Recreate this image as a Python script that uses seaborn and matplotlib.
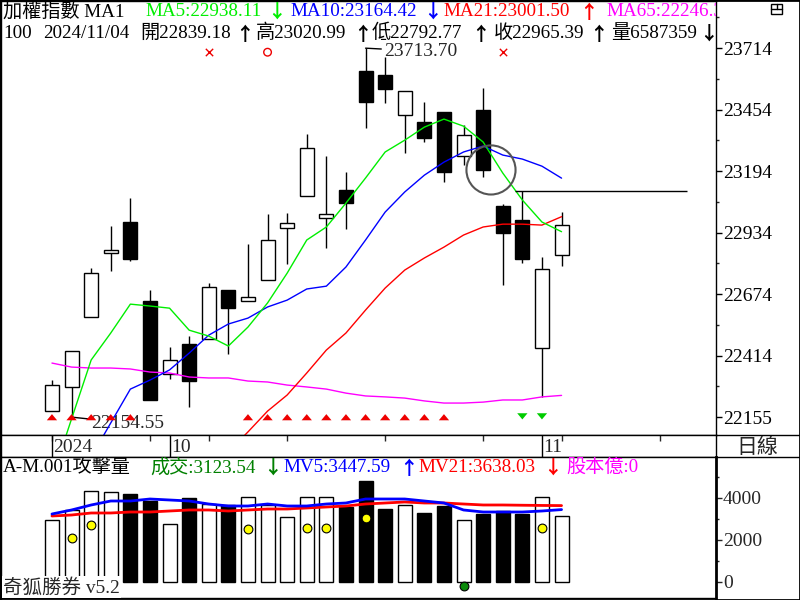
import numpy as np
import pandas as pd
import seaborn as sns
import matplotlib.pyplot as plt
from matplotlib.patches import Rectangle
from matplotlib.lines import Line2D
from matplotlib.transforms import Affine2D

# ---- data ----
dates = ["09/23", "09/24", "09/25", "09/26", "09/27", "09/30", "10/01", "10/04", "10/07",
         "10/08", "10/09", "10/11", "10/14", "10/15", "10/16", "10/17", "10/18", "10/21",
         "10/22", "10/23", "10/24", "10/25", "10/28", "10/29", "10/30", "11/01", "11/04"]
opens = [22180, 22282, 22578, 22848, 22979, 22645, 22337, 22463, 22485, 22692, 22645, 22734,
         22954, 23089, 22996, 23114, 23617, 23600, 23431, 23401, 23444, 23258, 23452, 23047,
         22987, 22447, 22839.18]
highs = [22311, 22434, 22785, 22962, 23080, 22692, 22451, 22497, 22721, 22692, 22886, 23013,
         23017, 23351, 23258, 23190, 23713.70, 23676, 23532, 23486, 23444, 23389, 23545, 23055,
         23110, 22831, 23020.99]
lows = [22180, 22154.55, 22578, 22772, 22814, 22227, 22316, 22197, 22485, 22421, 22645, 22734,
        22801, 23089, 22869, 22949, 23376, 23482, 23270, 23317, 23148, 23220, 23169, 22713,
        22806, 22240, 22792.77]
closes = [22290, 22434, 22763, 22861, 22823, 22227, 22396, 22307, 22704, 22616, 22662, 22903,
          22975, 23292, 23013, 23059, 23486, 23541, 23532, 23334, 23190, 23346, 23199, 22932,
          22823, 22780, 22965.39]

ma5 = [21897, 22147, 22396, 22510, 22632, 22624, 22615, 22522, 22497, 22455, 22535, 22637,
       22763, 22903, 22958, 23059, 23165, 23275, 23325, 23380, 23414, 23384, 23317, 23186,
       23072, 22979, 22938.11]
ma10 = [np.nan, np.nan, 21986, 22130, 22273, 22311, 22354, 22425, 22501, 22548, 22573, 22620,
        22649, 22696, 22708, 22789, 22903, 23021, 23106, 23177, 23232, 23275, 23300, 23262,
        23245, 23215, 23164.42]
ma21 = [np.nan] * 9 + [22007, 22092, 22180, 22248, 22341, 22438, 22510, 22607, 22700, 22776,
                       22827, 22873, 22924, 22958, 22970, 22970, 22966, 23001.50]
ma65 = [22383, 22366, 22362, 22362, 22358, 22345, 22341, 22324, 22320, 22320, 22307, 22303,
        22290, 22282, 22273, 22256, 22244, 22240, 22235, 22223, 22214, 22214, 22218, 22227,
        22227, 22240, 22246.32]

volume = [2952, 3429, 4333, 4286, 4190, 3857, 2762, 4000, 3714, 3667, 4048, 3667, 3095, 4048,
          4048, 3571, 4810, 3476, 3667, 3286, 3619, 2952, 3238, 3381, 3238, 4048, 3123.54]
mv5 = [3238, 3429, 3667, 3857, 3857, 3952, 3905, 3857, 3714, 3619, 3619, 3714, 3619, 3619,
       3714, 3762, 3952, 3952, 3952, 3857, 3762, 3429, 3333, 3333, 3333, 3381, 3447.59]
mv21 = [3143, 3190, 3286, 3286, 3333, 3333, 3381, 3429, 3429, 3381, 3429, 3476, 3476, 3524,
        3571, 3619, 3714, 3762, 3810, 3762, 3762, 3714, 3667, 3667, 3655, 3645, 3638.03]

shares = 6587359
buy_signal = [0, 1, 2, 3, 4, 10, 11, 12, 13, 14, 15, 16, 17, 18, 19, 20]
sell_signal = [24, 25]
x_marks = [8, 23]
o_marks = [11]
yellow_idx = [1, 2, 10, 13, 14, 16, 25]
yellow_val = [2095, 2714, 2524, 2571, 2571, 3048, 2571]
green_idx = [21]
green_val = [-190]

price_ticks = [22155, 22414, 22674, 22934, 23194, 23454, 23714]
vol_ticks = [0, 2000, 4000]
week_ticks = [0, 5, 8, 12, 17, 22, 26, 31]
month_ticks = [0, 6, 25]
month_labels = ["2024", "10", "11"]

df = pd.DataFrame({"x": np.arange(len(dates)), "open": opens, "high": highs, "low": lows,
                   "close": closes, "ma5": ma5, "ma10": ma10, "ma21": ma21, "ma65": ma65,
                   "vol": volume, "mv5": mv5, "mv21": mv21})
df["face"] = np.where(df["close"] > df["open"], "white", "black")

# ---- style ----
sns.set_theme(style="white")
plt.rcParams["font.family"] = ["Liberation Serif", "Noto Sans CJK TC", "DejaVu Sans"]
plt.rcParams["axes.edgecolor"] = "black"
plt.rcParams["axes.linewidth"] = 1.0
CJK = ["Noto Sans CJK TC", "DejaVu Sans"]

W, H = 800, 600
fig = plt.figure(figsize=(8, 6), dpi=100)
fig.patch.set_facecolor("white")


def box(x0, y0, x1, y1):
    return [x0 / W, 1 - y1 / H, (x1 - x0) / W, (y1 - y0) / H]


pix = Affine2D().scale(1 / W, -1 / H).translate(0, 1) + fig.transFigure

ax = fig.add_axes(box(1, 1, 716, 435))
dax = fig.add_axes(box(1, 435, 716, 457), sharex=ax)
vax = fig.add_axes(box(1, 457, 716, 598), sharex=ax)
for a in (ax, dax, vax):
    a.set_facecolor("white")
    for s in a.spines.values():
        s.set_color("black")
        s.set_linewidth(1)
vax.spines["right"].set_linewidth(2)

ax.set_xlim(-2.6, 33.88)
ax.set_ylim(22079, 23913)
vax.set_ylim(-762, 5952)
dax.set_ylim(0, 1)

# ---- candles ----
bw = 0.71
ax.vlines(df["x"], df["low"], df["high"], color="black", lw=1, zorder=2)
ax.bar(df["x"], (df["close"] - df["open"]).abs().clip(lower=2), bottom=df[["open", "close"]].min(axis=1),
       width=bw, color=df["face"], edgecolor="black", linewidth=1, zorder=3)

for col, c in [("ma65", "#ff00ff"), ("ma21", "#ff0000"), ("ma10", "#0000ff"), ("ma5", "#00ee00")]:
    sns.lineplot(data=df, x="x", y=col, color=c, lw=1, ax=ax, zorder=4)

up_tri = [(-1, -0.6), (1, -0.6), (0, 0.6), (-1, -0.6)]
dn_tri = [(-1, 0.6), (1, 0.6), (0, -0.6), (-1, 0.6)]
sig_tr = ax.get_xaxis_transform()
ax.scatter(buy_signal, [0.041] * len(buy_signal), transform=sig_tr, marker=up_tri, s=55,
           color="#ee0000", edgecolors="none", zorder=5)
ax.scatter(sell_signal, [0.043] * len(sell_signal), transform=sig_tr, marker=dn_tri, s=55,
           color="#00cc00", edgecolors="none", zorder=5)
ax.scatter(x_marks, [0.882] * len(x_marks), transform=sig_tr, marker="x", s=28,
           color="#ee0000", linewidths=1, zorder=5)
ax.scatter(o_marks, [0.882] * len(o_marks), transform=sig_tr, marker="o", s=30,
           facecolors="none", edgecolors="#ee0000", linewidths=1, zorder=5)

hi_i = int(np.argmax(highs))
lo_i = int(np.argmin(lows))
ax.annotate(f"{highs[hi_i]:.2f}", xy=(hi_i, highs[hi_i]), xytext=(19, -3), textcoords="offset pixels",
            ha="left", va="center", fontsize=14,
            arrowprops=dict(arrowstyle="-", color="black", lw=1, shrinkA=0, shrinkB=0))
ax.annotate(f"{lows[lo_i]:.2f}", xy=(lo_i, lows[lo_i]), xytext=(20, -6), textcoords="offset pixels",
            ha="left", va="center", fontsize=14,
            arrowprops=dict(arrowstyle="-", color="black", lw=1, shrinkA=0, shrinkB=0))

ax.scatter([22.4], [closes[22]], s=1250, marker="o", facecolors="none", edgecolors="#555555",
           linewidths=1.5, zorder=6)
ax.hlines(highs[24], 24 - bw / 2, 32.4, color="black", lw=1, zorder=4)

ax.yaxis.tick_right()
ax.set_yticks(price_ticks)
ax.set_yticklabels([str(t) for t in price_ticks])
ax.set_yticks([(a + b) / 2 for a, b in zip(price_ticks[:-1], price_ticks[1:])] + [23844], minor=True)
ax.tick_params(axis="y", which="major", direction="out", length=4, width=1, pad=1, labelsize=14,
               right=True, left=False, colors="black")
ax.tick_params(axis="y", which="minor", direction="out", length=2, width=1, right=True, left=False)
ax.tick_params(axis="x", bottom=False, labelbottom=False)
ax.set_xlabel("")
ax.set_ylabel("")


# ---- header texts ----
def hdr(a, px, py, s, c="black", fs=13.8):
    a.text(px, py, s, transform=pix, color=c, fontsize=fs, ha="left", va="center", clip_on=True)


def arrow(a, px, py, s, c="black"):
    a.text(px, py, s, transform=pix, color=c, fontsize=13.5, ha="center", va="center",
           family=CJK, fontweight="bold", clip_on=True)


hdr(ax, 3, 11, "加權指數 MA1")
hdr(ax, 145, 11, f"MA5:{ma5[-1]:.2f}", "#00ee00")
arrow(ax, 277, 12, "↓", "#00ee00")
hdr(ax, 290, 11, f"MA10:{ma10[-1]:.2f}", "#0000ff")
arrow(ax, 432, 12, "↓", "#0000ff")
hdr(ax, 443, 11, f"MA21:{ma21[-1]:.2f}", "#ff0000")
arrow(ax, 588, 12, "↑", "#ff0000")
hdr(ax, 606, 11, f"MA65:{ma65[-1]:.2f}", "#ff00ff")

hdr(ax, 3, 33, "100")
hdr(ax, 43, 33, "2024/11/04")
hdr(ax, 140, 33, f"開{opens[-1]:.2f}")
arrow(ax, 244, 34, "↑")
hdr(ax, 256, 33, f"高{highs[-1]:.2f}")
arrow(ax, 362, 34, "↑")
hdr(ax, 372, 33, f"低{lows[-1]:.2f}")
arrow(ax, 481, 34, "↑")
hdr(ax, 494, 33, f"收{closes[-1]:.2f}")
arrow(ax, 598, 34, "↑")
hdr(ax, 611, 33, f"量{shares}")
arrow(ax, 709, 34, "↓")

# ---- date strip ----
dax.set_xticks(week_ticks)
dax.tick_params(axis="x", which="major", direction="in", length=4, width=1, top=True, bottom=False,
                labeltop=False, labelbottom=False)
dax.set_yticks([])
dax.vlines(month_ticks, 0, 1, color="black", lw=1)
for m, lab in zip(month_ticks, month_labels):
    dax.text(m + 0.08, 0.45, lab, fontsize=14, ha="left", va="center")

# ---- volume ----
vax.bar(df["x"], df["vol"], width=bw, color=df["face"], edgecolor="black", linewidth=1, zorder=2)
sns.lineplot(data=df, x="x", y="mv21", color="#ff0000", lw=2, ax=vax, zorder=3)
sns.lineplot(data=df, x="x", y="mv5", color="#0000ff", lw=2, ax=vax, zorder=3)
sns.scatterplot(x=yellow_idx, y=yellow_val, color="#ffff00", edgecolor="black", s=40, linewidth=0.8,
                ax=vax, zorder=4)
sns.scatterplot(x=green_idx, y=green_val, color="#0a8a0a", edgecolor="black", s=40, linewidth=0.8,
                ax=vax, zorder=4)
vax.set_xlabel("")
vax.set_ylabel("")
vax.yaxis.tick_right()
vax.set_yticks(vol_ticks)
vax.set_yticklabels([str(t) for t in vol_ticks])
vax.set_yticks([1000, 3000, 5000], minor=True)
vax.tick_params(axis="y", which="major", direction="out", length=4, width=1, pad=1, labelsize=14,
                right=True, left=False)
vax.tick_params(axis="y", which="minor", direction="out", length=2, width=1, right=True, left=False)
vax.tick_params(axis="x", bottom=False, labelbottom=False)

hdr(vax, 3, 467, "A-M.001攻擊量")
hdr(vax, 150, 467, f"成交:{volume[-1]:.2f}", "#008000")
arrow(vax, 272, 468, "↓", "#008000")
hdr(vax, 283, 467, f"MV5:{mv5[-1]:.2f}", "#0000ff")
arrow(vax, 408, 468, "↑", "#0000ff")
hdr(vax, 418, 467, f"MV21:{mv21[-1]:.2f}", "#ff0000")
arrow(vax, 553, 468, "↓", "#ff0000")
hdr(vax, 566, 467, "股本億:0", "#ff00ff")
vax.text(3, 587, "奇狐勝券 v5.2", transform=pix, fontsize=14, ha="left", va="center", zorder=10,
         bbox=dict(facecolor="white", edgecolor="none", pad=1))

# ---- frame pieces on the right ----
for yy in (435, 457):
    fig.add_artist(Line2D([716 / W, 1], [1 - yy / H] * 2, color="black", lw=1))
fig.text(757 / W, 1 - 447 / H, "日線", fontsize=15, ha="center", va="center", family=CJK)
fig.add_artist(Rectangle((771 / W, 1 - 14 / H), 11 / W, 10 / H, fill=False, ec="black", lw=1))
fig.add_artist(Line2D([771 / W, 782 / W], [1 - 9 / H] * 2, color="black", lw=1))
fig.add_artist(Line2D([777 / W] * 2, [1 - 4 / H, 1 - 9 / H], color="black", lw=1))
fig.add_artist(Rectangle((0, 0), 1, 1, transform=fig.transFigure, fill=False, ec="black", lw=2))

plt.savefig("out.png", dpi=100)
